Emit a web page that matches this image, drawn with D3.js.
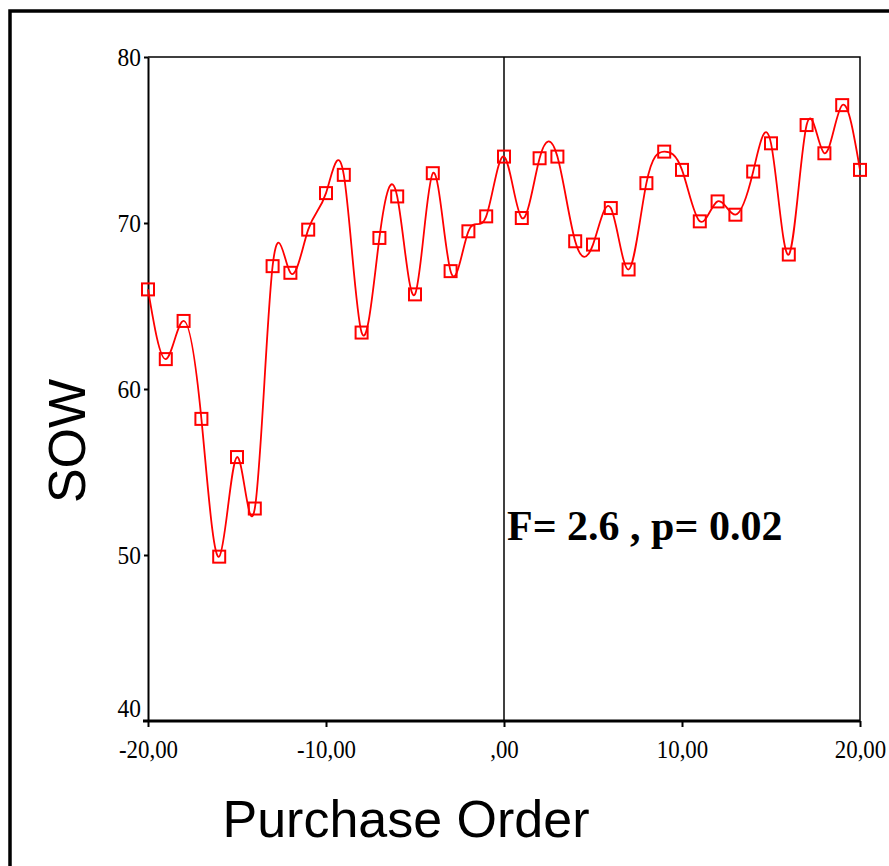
<!DOCTYPE html>
<html>
<head>
<meta charset="utf-8">
<script src="https://cdn.jsdelivr.net/npm/d3@7"></script>
<style>
  body { margin: 0; background: #fff; }
  svg { display: block; }
</style>
</head>
<body>
<div id="chart"></div>
<script>
// Data
const purchaseOrder = d3.range(-20, 21);
const sow = [
  66.0, 61.8, 64.1, 58.2, 49.9, 55.9, 52.8, 67.4, 67.0, 69.6,
  71.8, 72.9, 63.4, 69.1, 71.6, 65.7, 73.0, 67.1, 69.5, 70.4,
  74.0,
  70.3, 73.9, 74.0, 68.9, 68.7, 70.9, 67.2, 72.4, 74.3, 73.2,
  70.1, 71.3, 70.5, 73.1, 74.8, 68.1, 75.9, 74.2, 77.1, 73.2
];
const xTicks = [-20, -10, 0, 10, 20];
const xTickLabels = ["-20,00", "-10,00", ",00", "10,00", "20,00"];
const yTicks = [40, 50, 60, 70, 80];

const data = purchaseOrder.map((x, i) => ({ x: x, y: sow[i] }));

const W = 889, H = 866;
const plot = { left: 148, right: 860, top: 57, bottom: 721 };
const tickFont = "'Liberation Serif', 'Times New Roman', serif";

const svg = d3.select("#chart").append("svg")
  .attr("width", W)
  .attr("height", H);

// outer frame (runs off the right and bottom edge)
svg.append("rect")
  .attr("x", 10).attr("y", 11)
  .attr("width", 1000).attr("height", 1000)
  .attr("fill", "none")
  .attr("stroke", "#000")
  .attr("stroke-width", 3.5);

const xscale = d3.scaleLinear().domain([-20, 20]).range([plot.left, plot.right]);
const yscale = d3.scaleLinear().domain([40, 80]).range([plot.bottom, plot.top]);

// top and right frame lines
svg.append("path")
  .attr("d", `M${plot.left},${plot.top}H${plot.right}V${plot.bottom}`)
  .attr("fill", "none")
  .attr("stroke", "#000")
  .attr("stroke-width", 1.5);

// reference line at x = 0
svg.append("line")
  .attr("x1", xscale(0)).attr("x2", xscale(0))
  .attr("y1", plot.top).attr("y2", plot.bottom)
  .attr("stroke", "#000")
  .attr("stroke-width", 1.5);

// Axes
const xAxis = d3.axisBottom(xscale)
  .tickValues(xTicks)
  .tickFormat((d, i) => xTickLabels[i])
  .tickSize(6)
  .tickSizeOuter(0);
const gX = svg.append("g")
  .attr("transform", `translate(0,${plot.bottom})`)
  .call(xAxis);
gX.select(".domain")
  .attr("d", `M${plot.left - 5},0H${plot.right}`)
  .attr("stroke-width", 3);
gX.selectAll(".tick line").attr("stroke-width", 2);
gX.selectAll("text")
  .attr("y", 0).attr("dy", 0)
  .attr("transform", "translate(0,37) scale(0.88,1)")
  .attr("font-family", tickFont)
  .attr("font-size", 26)
  .attr("fill", "#000");

const yAxis = d3.axisLeft(yscale)
  .tickValues(yTicks)
  .tickSize(4)
  .tickSizeOuter(0);
const gY = svg.append("g")
  .attr("transform", `translate(${plot.left},0)`)
  .call(yAxis);
gY.select(".domain").attr("stroke-width", 2);
gY.selectAll(".tick line").attr("stroke-width", 2);
gY.selectAll("text")
  .attr("x", 0)
  .attr("transform", "translate(-7,0) scale(0.9,1)")
  .attr("dy", (d) => d === 40 ? "-0.18em" : "0.34em")
  .attr("font-family", tickFont)
  .attr("font-size", 26)
  .attr("fill", "#000");
gY.selectAll(".tick").filter((d) => d === 40).select("line").remove();

// Line
const line = d3.line()
  .x((d) => xscale(d.x))
  .y((d) => yscale(d.y))
  .curve(d3.curveNatural);

svg.append("path")
  .datum(data)
  .attr("d", line)
  .attr("fill", "none")
  .attr("stroke", "#ff0000")
  .attr("stroke-width", 1.8);

// Square markers
const ms = 12;
svg.selectAll("rect.marker")
  .data(data)
  .join("rect")
  .attr("class", "marker")
  .attr("x", (d) => xscale(d.x) - ms / 2)
  .attr("y", (d) => yscale(d.y) - ms / 2)
  .attr("width", ms)
  .attr("height", ms)
  .attr("fill", "none")
  .attr("stroke", "#ff0000")
  .attr("stroke-width", 2);

// Annotation
svg.append("text")
  .attr("x", 507).attr("y", 540)
  .attr("font-family", tickFont)
  .attr("font-weight", "bold")
  .attr("font-size", 42)
  .text("F= 2.6 , p= 0.02");

// Axis titles
svg.append("text")
  .attr("transform", `translate(85,441) rotate(-90)`)
  .attr("text-anchor", "middle")
  .attr("font-family", "'Liberation Sans', Arial, sans-serif")
  .attr("font-size", 52)
  .text("SOW");

svg.append("text")
  .attr("x", 406).attr("y", 837)
  .attr("text-anchor", "middle")
  .attr("font-family", "'Liberation Sans', Arial, sans-serif")
  .attr("font-size", 52)
  .text("Purchase Order");
</script>
</body>
</html>
